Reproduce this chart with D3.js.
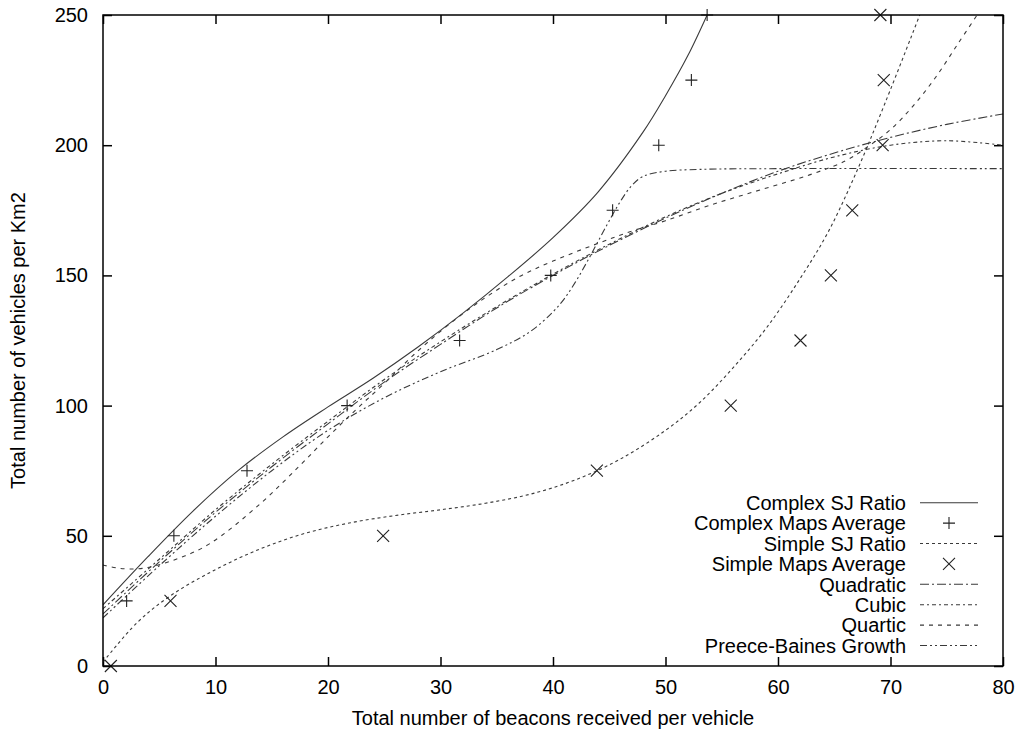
<!DOCTYPE html>
<html>
<head>
<meta charset="utf-8">
<script src="https://cdn.jsdelivr.net/npm/d3@7"></script>
<style>
  body { margin: 0; background: #fff; }
  text { font-family: "Liberation Sans", Arial, sans-serif; font-size: 20px; fill: #000; }
</style>
</head>
<body>
<script>
var complexMaps = [[2.1,25],[6.3,50],[12.8,75],[21.7,100],[31.7,125],[39.8,150],[45.3,175],[49.4,200],[52.3,225],[53.7,250]];
var simpleMaps = [[0.7,0],[6.0,25],[24.9,50],[43.9,75],[55.8,100],[62.0,125],[64.7,150],[66.6,175],[69.3,200],[69.4,225],[69.1,250]];

// fitted curves, sampled by eye
var complexSJ = [[0,23.5],[4,42],[8,59.5],[12,75],[16,88],[20,99.5],[24,110.5],[28,122.5],[32,135.5],[36,149.5],[40,164.5],[44,182],[48,205],[50,219],[52,234.5],[53.7,250]];
var simpleSJ = [[0,1.5],[3,16.5],[6,27],[10,37],[14,45],[18,51],[22,55],[26,57.8],[30,60],[34,62.5],[38,66],[42,71.5],[46,79.5],[50,90.5],[53,101],[56,114.5],[59,130],[62,149],[64.5,167],[67,190],[69.5,216],[72.6,250]];
var quadratic = [[0,20],[5,40],[10,59],[15,76.5],[20,93],[25,109],[30,123.5],[35,137.5],[40,150],[45,161.5],[50,172],[55,181.5],[60,190],[65,197],[70,203],[75,208],[80,212]];
var cubic = [[0,22],[5,41],[10,60],[15,77.5],[20,94],[25,110],[30,124.5],[35,138],[40,150.5],[45,162],[50,172.5],[55,181.5],[60,189],[65,195.5],[70,200],[75,201.7],[80,200]];
var quartic = [[0,38.8],[1.5,37.5],[3.5,37.5],[6.5,41],[9.5,47],[14,62.4],[17.5,77],[20,88],[22.5,98.5],[25,108.5],[28,121],[31,132],[34,141.5],[37,149.5],[40,155.5],[44,162.3],[47,167],[50,171],[54,177],[58.4,182.8],[62.8,188.6],[66,194],[68,199.5],[70,206],[72,215],[74,226],[76,239],[77.7,250]];
var preeceBaines = [[0,18.5],[5,38.5],[10,57.5],[15,75],[20,90.5],[25,103],[30,113],[35,121.5],[38,128.5],[40,136],[41,141],[42,147.5],[43,155],[44,163],[45,171],[46,178.5],[47,184.5],[48,188],[50,190],[53,190.7],[60,191],[80,191]];

var xTicks = [0,10,20,30,40,50,60,70,80];
var yTicks = [0,50,100,150,200,250];

var legendNames = ["Complex SJ Ratio","Complex Maps Average","Simple SJ Ratio","Simple Maps Average","Quadratic","Cubic","Quartic","Preece-Baines Growth"];

var w = 1024, h = 736;
var pLeft = 103, pRight = 1003, pTop = 15, pBottom = 666;

var svg = d3.select("body").append("svg")
            .attr("width", w)
            .attr("height", h);

var x = d3.scaleLinear().domain([0,80]).range([pLeft,pRight]);
var y = d3.scaleLinear().domain([0,250]).range([pBottom,pTop]);

svg.append("clipPath").attr("id","plot")
   .append("rect")
   .attr("x", pLeft).attr("y", pTop)
   .attr("width", pRight-pLeft).attr("height", pBottom-pTop);

// ticks on all four sides, pointing in
var tickLen = 9;
svg.append("g")
   .attr("transform","translate(0," + pBottom + ")")
   .call(d3.axisBottom(x).tickValues(xTicks).tickSizeInner(-tickLen).tickSizeOuter(0).tickPadding(14))
   .call(function(g){ g.select(".domain").remove(); });
svg.append("g")
   .attr("transform","translate(0," + pTop + ")")
   .call(d3.axisTop(x).tickValues(xTicks).tickSizeInner(-tickLen).tickSizeOuter(0).tickFormat(""))
   .call(function(g){ g.select(".domain").remove(); });
svg.append("g")
   .attr("transform","translate(" + pLeft + ",0)")
   .call(d3.axisLeft(y).tickValues(yTicks).tickSizeInner(-tickLen).tickSizeOuter(0).tickPadding(15))
   .call(function(g){ g.select(".domain").remove(); });
svg.append("g")
   .attr("transform","translate(" + pRight + ",0)")
   .call(d3.axisRight(y).tickValues(yTicks).tickSizeInner(-tickLen).tickSizeOuter(0).tickFormat(""))
   .call(function(g){ g.select(".domain").remove(); });

svg.selectAll(".tick line").attr("stroke","#000").attr("stroke-width",1.5);
svg.selectAll(".tick text").attr("font-size","20px").attr("font-family",'"Liberation Sans", Arial, sans-serif');

// series styles
var series = [
  {data: complexSJ,    dash: null},
  {data: simpleSJ,     dash: "3,3"},
  {data: quadratic,    dash: "9,3,2,3"},
  {data: cubic,        dash: "4,3,2,3"},
  {data: quartic,      dash: "4,5"},
  {data: preeceBaines, dash: "7,3,2,3,2,3"}
];

var line = d3.line()
             .x(function(d){ return x(d[0]); })
             .y(function(d){ return y(d[1]); })
             .curve(d3.curveCatmullRom.alpha(0.5));

svg.append("g").attr("clip-path","url(#plot)")
   .selectAll("path")
   .data(series)
   .enter()
   .append("path")
   .attr("d", function(d){ return line(d.data); })
   .attr("fill","none")
   .attr("stroke", "#3a3a3a")
   .attr("stroke-width", 1.1)
   .attr("stroke-dasharray", function(d){ return d.dash; });

// markers
function plus(g, cx, cy) {
  g.append("path").attr("d","M" + (cx-6) + "," + cy + "H" + (cx+6) + "M" + cx + "," + (cy-6) + "V" + (cy+6))
   .attr("stroke","#222").attr("stroke-width",1.1).attr("fill","none");
}
function cross(g, cx, cy) {
  g.append("path").attr("d","M" + (cx-6) + "," + (cy-6) + "L" + (cx+6) + "," + (cy+6) + "M" + (cx-6) + "," + (cy+6) + "L" + (cx+6) + "," + (cy-6))
   .attr("stroke","#222").attr("stroke-width",1.1).attr("fill","none");
}
var marks = svg.append("g");
complexMaps.forEach(function(d){ plus(marks, x(d[0]), y(d[1])); });
simpleMaps.forEach(function(d){ cross(marks, x(d[0]), y(d[1])); });

// frame
svg.append("rect")
   .attr("x", pLeft).attr("y", pTop)
   .attr("width", pRight-pLeft).attr("height", pBottom-pTop)
   .attr("fill","none").attr("stroke","#000").attr("stroke-width",1.5);

// axis titles
svg.append("text")
   .attr("x", (pLeft+pRight)/2).attr("y", 725)
   .attr("text-anchor","middle")
   .text("Total number of beacons received per vehicle");
svg.append("text")
   .attr("transform","translate(25," + ((pTop+pBottom)/2) + ") rotate(-90)")
   .attr("text-anchor","middle")
   .text("Total number of vehicles per Km2");

// legend
var legY0 = 502.7, legStep = 20.4;
var leg = svg.append("g");
legendNames.forEach(function(name, i){
  var ly = legY0 + i*legStep;
  leg.append("text")
     .attr("x", 906).attr("y", ly)
     .attr("dy","0.36em")
     .attr("text-anchor","end")
     .text(name);
});
var legLines = [
  {row: 0, dash: null},
  {row: 2, dash: "3,3"},
  {row: 4, dash: "9,3,2,3"},
  {row: 5, dash: "4,3,2,3"},
  {row: 6, dash: "4,5"},
  {row: 7, dash: "7,3,2,3,2,3"}
];
leg.selectAll("line")
   .data(legLines)
   .enter()
   .append("line")
   .attr("x1", 920).attr("x2", 978)
   .attr("y1", function(d){ return legY0 + d.row*legStep; })
   .attr("y2", function(d){ return legY0 + d.row*legStep; })
   .attr("stroke","#3a3a3a")
   .attr("stroke-width",1.1)
   .attr("stroke-dasharray", function(d){ return d.dash; });
plus(leg, 949, legY0 + legStep);
cross(leg, 949, legY0 + 3*legStep);
</script>
</body>
</html>
